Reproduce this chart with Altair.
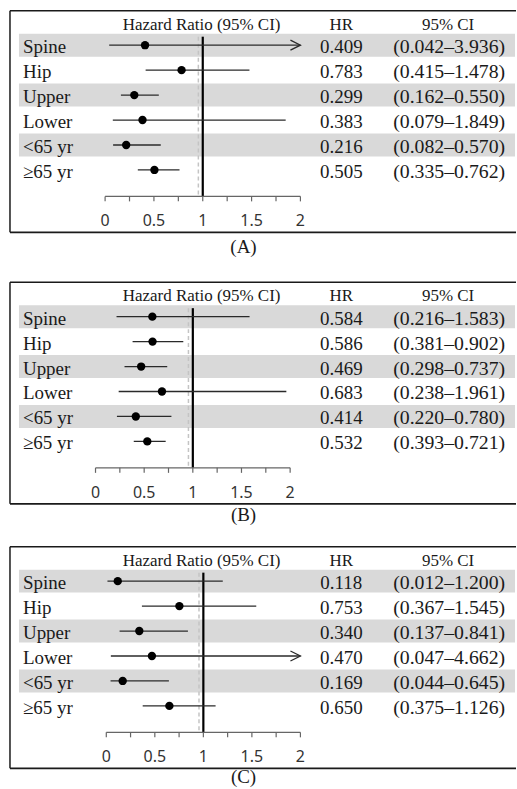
import altair as alt
import pandas as pd

# ---- data -------------------------------------------------------------
rows = ["Spine", "Hip", "Upper", "Lower", "<65 yr", "≥65 yr"]
shaded_rows = ["Spine", "Upper", "<65 yr"]

hr_a = [0.409, 0.783, 0.299, 0.383, 0.216, 0.505]
lo_a = [0.042, 0.415, 0.162, 0.079, 0.082, 0.335]
hi_a = [3.936, 1.478, 0.550, 1.849, 0.570, 0.762]

hr_b = [0.584, 0.586, 0.469, 0.683, 0.414, 0.532]
lo_b = [0.216, 0.381, 0.298, 0.238, 0.220, 0.393]
hi_b = [1.583, 0.902, 0.737, 1.961, 0.780, 0.721]

hr_c = [0.118, 0.753, 0.340, 0.470, 0.169, 0.650]
lo_c = [0.012, 0.367, 0.137, 0.047, 0.044, 0.375]
hi_c = [1.200, 1.545, 0.841, 4.662, 0.645, 1.126]

captions = ["(A)", "(B)", "(C)"]
tick_values = [0, 0.25, 0.5, 0.75, 1, 1.25, 1.5, 1.75, 2]
label_values = [0, 0.5, 1, 1.5, 2]
label_texts = ["0", "0.5", "1", "1.5", "2"]
axis_max = 2
null_value = 1
shadow_value = 0.955

SERIF = "Liberation Serif"
SANS = "Noto Sans"
INK = "#1a1a1a"
W = 517


def panel(hr, lo, hi, caption, x_range, height, caption_y):
    df = pd.DataFrame({"row": rows, "hr": hr, "lo": lo, "hi": hi})
    df["hi_plot"] = df["hi"].clip(upper=axis_max)
    df["hr_txt"] = [f"{v:.3f}" for v in hr]
    df["ci_txt"] = [f"({a:.3f}–{b:.3f})" for a, b in zip(lo, hi)]
    shaded = df[df["row"].isin(shaded_rows)]
    arrows = df[df["hi"] > axis_max]
    ticks = pd.DataFrame({"v": tick_values})
    labels = pd.DataFrame({"v": label_values, "t": label_texts})
    one = pd.DataFrame({"k": [0]})

    xs = alt.Scale(domain=[0, axis_max], range=x_range, nice=False, zero=False)
    Y = alt.Y("row:N", sort=rows, axis=None,
              scale=alt.Scale(domain=rows, range=[32, 182],
                              paddingInner=0.08, paddingOuter=0.04))

    bands = alt.Chart(shaded).mark_rect(color="#d9d9d9").encode(
        y=Y, x=alt.value(19), x2=alt.value(516))

    base1 = alt.Chart(one)
    box_top = base1.mark_rule(color=INK, strokeWidth=1.5).encode(
        x=alt.value(10), x2=alt.value(W), y=alt.value(10))
    box_left = base1.mark_rule(color=INK, strokeWidth=1.5).encode(
        x=alt.value(10), y=alt.value(10), y2=alt.value(232))
    box_bottom = base1.mark_rule(color=INK, strokeWidth=1.8).encode(
        x=alt.value(10), x2=alt.value(W), y=alt.value(232))

    shadow = base1.mark_rule(color="#c4c4c4", strokeWidth=1.5,
                             strokeDash=[4, 3]).encode(
        x=alt.XDatum(shadow_value, type="quantitative", scale=xs, axis=None),
        y=alt.value(36), y2=alt.value(196))
    ref = base1.mark_rule(color="black", strokeWidth=2.2).encode(
        x=alt.XDatum(null_value, type="quantitative", scale=xs, axis=None),
        y=alt.value(36), y2=alt.value(196))

    ci = alt.Chart(df).mark_rule(color="#2a2a2a", strokeWidth=1.3).encode(
        x=alt.X("lo:Q", scale=xs, axis=None), x2="hi_plot:Q", y=Y)
    arrow = alt.Chart(arrows).mark_point(
        shape="M-1,-0.5L0,0L-1,0.5", filled=False, size=400,
        color="#2a2a2a", strokeWidth=1.3, opacity=1).encode(
        x=alt.X("hi_plot:Q", scale=xs, axis=None), y=Y)
    dots = alt.Chart(df).mark_circle(size=70, color="black", opacity=1).encode(
        x=alt.X("hr:Q", scale=xs, axis=None), y=Y)

    axis_line = base1.mark_rule(color="#666666", strokeWidth=1.2).encode(
        x=alt.XDatum(0, type="quantitative", scale=xs, axis=None),
        x2=alt.X2Datum(axis_max), y=alt.value(196))
    axis_ticks = alt.Chart(ticks).mark_rule(color="#666666", strokeWidth=1.2).encode(
        x=alt.X("v:Q", scale=xs, axis=None), y=alt.value(196), y2=alt.value(201))
    axis_labels = alt.Chart(labels).mark_text(
        font=SANS, fontSize=16, color="#333333", baseline="middle").encode(
        x=alt.X("v:Q", scale=xs, axis=None), y=alt.value(221), text="t:N")

    row_txt = alt.Chart(df).mark_text(
        font=SERIF, fontSize=19, color=INK, align="left", baseline="middle",
        dy=2).encode(x=alt.value(23), y=Y, text="row:N")
    hr_txt = alt.Chart(df).mark_text(
        font=SERIF, fontSize=19, color=INK, align="center", baseline="middle",
        dy=2).encode(x=alt.value(342), y=Y, text="hr_txt:N")
    ci_txt = alt.Chart(df).mark_text(
        font=SERIF, fontSize=19.8, color=INK, align="center", baseline="middle",
        dy=2).encode(x=alt.value(450), y=Y, text="ci_txt:N")

    def header(txt, x):
        return base1.mark_text(font=SERIF, fontSize=17, color=INK,
                               align="center", baseline="middle").encode(
            x=alt.value(x), y=alt.value(24), text=alt.value(txt))

    cap = base1.mark_text(font=SERIF, fontSize=19, color=INK, align="center",
                          baseline="middle").encode(
        x=alt.value(244), y=alt.value(caption_y), text=alt.value(caption))

    return alt.layer(
        bands, box_top, box_left, box_bottom, shadow, ref, ci, arrow, dots,
        axis_line, axis_ticks, axis_labels, row_txt, hr_txt, ci_txt,
        header("Hazard Ratio (95% CI)", 202), header("HR", 342),
        header("95% CI", 449), cap,
    ).properties(width=W, height=height)


pa = panel(hr_a, lo_a, hi_a, captions[0], [105.3, 301.0], 272, 247)
pb = panel(hr_b, lo_b, hi_b, captions[1], [95.7, 290.7], 265, 243)
pc = panel(hr_c, lo_c, hi_c, captions[2], [106.5, 301.0], 252, 241)

chart = alt.vconcat(pa, pb, pc, spacing=0, bounds="flush").properties(
    padding=0, background="white"
).configure_view(stroke=None)

chart.save("out.html", embed_options={"renderer": "svg", "actions": False})
